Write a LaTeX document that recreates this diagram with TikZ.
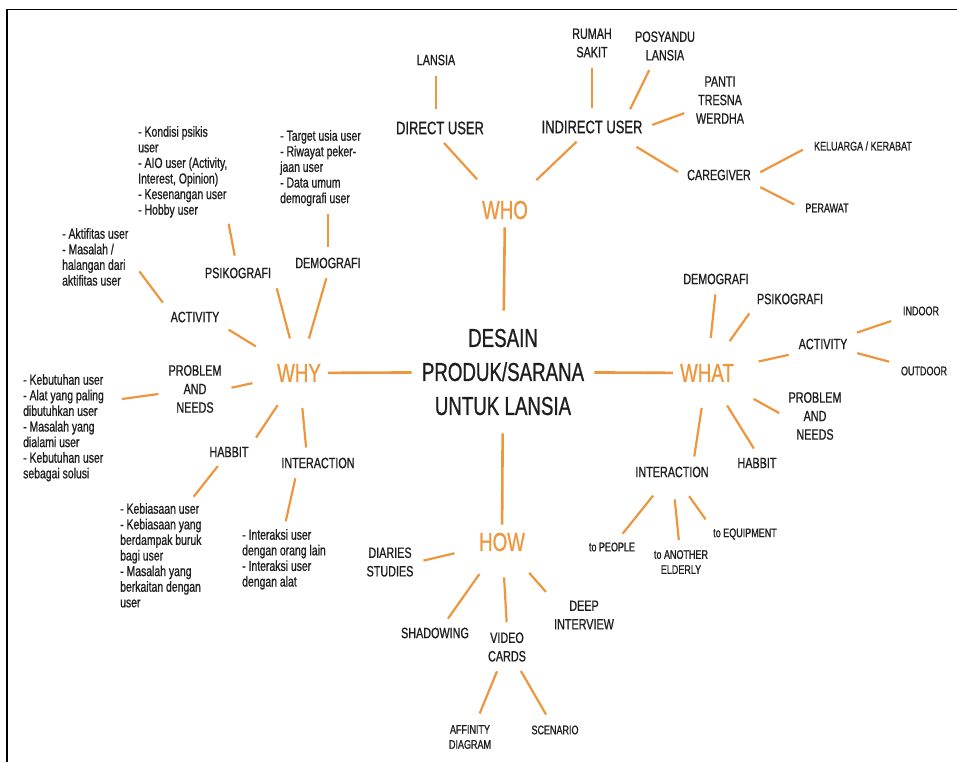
\documentclass[tikz,border=0pt]{standalone}
\usepackage{fontspec}
\setmainfont{Liberation Sans}[FakeStretch=0.72, FakeBold=0.8]
\definecolor{accent}{RGB}{238,150,62}
\definecolor{ink}{RGB}{30,30,30}

\begin{document}
\begin{tikzpicture}[x=1pt,y=-1pt,
  every node/.style={text=ink, inner sep=4pt},
  big/.style={font=\fontsize{26}{34}\selectfont, align=center, inner xsep=10pt, inner ysep=18pt},
  hub/.style={text=accent, font=\fontsize{26}{30}\selectfont, inner xsep=7pt, inner ysep=8pt},
  mid/.style={font=\fontsize{18}{22}\selectfont},
  lab/.style={font=\fontsize{15}{18.5}\selectfont, align=center},
  sm/.style={font=\fontsize{12.5}{15}\selectfont, align=center},
  list/.style={font=\fontsize{14.5}{15.6}\selectfont, align=left, anchor=north west, inner sep=0pt},
  link/.style={draw=accent, line width=2.6pt},
  spoke/.style={draw=accent, line width=2.2pt, shorten <=18pt, shorten >=6pt},
  twig/.style={draw=accent, line width=2.2pt, shorten <=6pt, shorten >=8pt}]
\useasboundingbox (0,0) rectangle (957,762);
\fill[white] (0,0) rectangle (957,762);
% 枠
\draw[line width=1.6pt] (7,762) -- (7,9.5) -- (957,9.5);

% 中心
\node[big] (centre) at (503,372) {DESAIN\\PRODUK/SARANA\\UNTUK LANSIA};
\node[hub] (who) at (505,210) {WHO};
\node[hub] (why) at (299,373) {WHY};
\node[hub] (what) at (707,373) {WHAT};
\node[hub] (how) at (502,542) {HOW};
\draw[link] (centre) -- (who);
\draw[link] (centre) -- (why);
\draw[link] (centre) -- (what);
\draw[link] (centre) -- (how);

% WHO
\node[mid] (direct) at (440,128) {DIRECT USER};
\node[lab] (lansia) at (436,60) {LANSIA};
\node[mid] (indirect) at (592,127) {INDIRECT USER};
\node[lab] (rumah) at (592,43) {RUMAH\\SAKIT};
\node[lab] (posyandu) at (665,46) {POSYANDU\\LANSIA};
\node[lab] (panti) at (720,100) {PANTI\\TRESNA\\WERDHA};
\node[lab] (caregiver) at (719,175) {CAREGIVER};
\node[sm] (keluarga) at (863,146) {KELUARGA / KERABAT};
\node[sm] (perawat) at (827,208) {PERAWAT};
\draw[spoke] (who) -- (direct.south);
\draw[spoke] (who) -- (indirect);
\draw[twig] (lansia) -- (lansia |- direct.north);
\draw[twig] (rumah) -- (indirect);
\draw[twig] (posyandu.235) -- (indirect.17);
\draw[twig] (indirect.east) -- (panti);
\draw[spoke] (indirect.-20) -- (caregiver.west);
\draw[twig] (caregiver.east) -- (keluarga.west);
\draw[twig] (caregiver.south east) -- (perawat.west);

% WHY
\node[lab] (psiko) at (238,273) {PSIKOGRAFI};
\node[lab] (demo) at (328,263) {DEMOGRAFI};
\node[lab] (activity) at (195,317) {ACTIVITY};
\node[lab] (problem) at (195,389) {PROBLEM\\AND\\NEEDS};
\node[lab] (habbit) at (229,452) {HABBIT};
\node[lab] (interaction) at (318,463) {INTERACTION};
\node[list] (psikolist) at (138,126) {- Kondisi psikis\\user\\- AIO user (Activity,\\Interest, Opinion)\\- Kesenangan user\\- Hobby user};
\node[list] (demolist) at (280,130) {- Target usia user\\- Riwayat peker-\\jaan user\\- Data umum\\demografi user};
\node[list] (actlist) at (62,228) {- Aktifitas user\\- Masalah /\\halangan dari\\aktifitas user};
\node[list] (problist) at (23,374) {- Kebutuhan user\\- Alat yang paling\\dibutuhkan user\\- Masalah yang\\dialami user\\- Kebutuhan user\\sebagai solusi};
\node[list] (habbitlist) at (120,503) {- Kebiasaan user\\- Kebiasaan yang\\berdampak buruk\\bagi user\\- Masalah yang\\berkaitan dengan\\user};
\node[list] (interlist) at (242,529) {- Interaksi user\\dengan orang lain\\- Interaksi user\\dengan alat};
\draw[spoke] (why) -- (psiko.south east);
\draw[spoke] (why) -- (demo.south);
\draw[spoke] (why) -- (activity.south east);
\draw[spoke] (why) -- (problem.east);
\draw[spoke] (why) -- (habbit.north east);
\draw[spoke] (why) -- (interaction.140);
\draw[twig] (psikolist.south east) -- (psiko);
\draw[twig] (demo) -- (demo |- demolist.south);
\draw[spoke] (actlist.east) -- (activity.north west);
\draw[spoke] (problist.33) -- (problem);
\draw[twig] (habbit) -- (habbitlist.62);
\draw[twig] (interaction.204) -- (interlist.north);

% WHAT
\node[lab] (demow) at (716,279) {DEMOGRAFI};
\node[lab] (psikow) at (790,299) {PSIKOGRAFI};
\node[lab] (actw) at (823,344) {ACTIVITY};
\node[sm] (indoor) at (921,311) {INDOOR};
\node[sm] (outdoor) at (924,371) {OUTDOOR};
\node[lab] (probw) at (815,416) {PROBLEM\\AND\\NEEDS};
\node[lab] (habbitw) at (757,463) {HABBIT};
\node[lab] (interw) at (672,472) {INTERACTION};
\node[sm] (people) at (612,547) {to PEOPLE};
\node[sm] (elderly) at (681,562) {to ANOTHER\\ELDERLY};
\node[sm] (equip) at (745,534) {to EQUIPMENT};
\draw[spoke] (what) -- (demow.south);
\draw[spoke] (what) -- (psikow.south west);
\draw[spoke] (what) -- (actw.south west);
\draw[spoke] (what) -- (probw.west);
\draw[spoke] (what) -- (habbitw.north);
\draw[spoke] (what) -- (interw.24);
\draw[twig] (actw) -- (indoor);
\draw[twig] (actw) -- (outdoor);
\draw[spoke] (interw) -- (people);
\draw[spoke] (interw) -- (elderly);
\draw[spoke] (interw) -- (equip.north west);

% HOW
\node[lab] (diaries) at (390,562) {DIARIES\\STUDIES};
\node[lab] (shadow) at (435,633) {SHADOWING};
\node[lab] (video) at (507,647) {VIDEO\\CARDS};
\node[lab] (deep) at (584,615) {DEEP\\INTERVIEW};
\node[sm] (affinity) at (470,737) {AFFINITY\\DIAGRAM};
\node[sm] (scenario) at (555,730) {SCENARIO};
\draw[spoke] (how) -- (diaries.east);
\draw[spoke] (how) -- (shadow.45);
\draw[spoke] (how) -- (video.north);
\draw[spoke] (how) -- (deep.north west);
\draw[twig] (video) -- (affinity);
\draw[twig] (video) -- (scenario);
\end{tikzpicture}
\end{document}
